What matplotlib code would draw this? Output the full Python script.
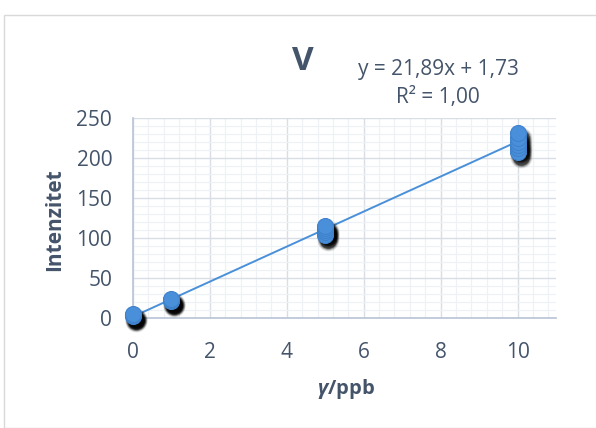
import matplotlib
matplotlib.use("Agg")
import matplotlib.pyplot as plt
import matplotlib.transforms as mtransforms
from matplotlib.patches import Rectangle
import numpy as np

plt.rcParams["mathtext.fontset"] = "custom"
plt.rcParams["mathtext.it"] = "Open Sans:italic:bold"
plt.rcParams["mathtext.rm"] = "Open Sans:bold"
plt.rcParams["mathtext.bf"] = "Open Sans:bold"

# ---- data ----
conc_0 = [0, 0, 0]
int_0 = [2, 4, 5]
conc_1 = [1, 1, 1]
int_1 = [21, 22, 24]
conc_5 = [5, 5, 5, 5, 5]
int_5 = [104, 107, 110, 113, 115]
conc_10 = [10, 10, 10, 10, 10, 10]
int_10 = [208, 212, 216, 220, 225, 231]
slope = 21.89
intercept = 1.73
equation_text = "y = 21,89x + 1,73"
r2_text = "R² = 1,00"
title_text = "V"
x_label = r"$\gamma$/ppb"
y_label = "Intenzitet"
x_ticks = [0, 2, 4, 6, 8, 10]
y_ticks = [0, 50, 100, 150, 200, 250]

x = np.array(conc_0 + conc_1 + conc_5 + conc_10, dtype=float)
y = np.array(int_0 + int_1 + int_5 + int_10, dtype=float)

txt = "#44546A"
fam = ["Open Sans", "DejaVu Sans"]

fig = plt.figure(figsize=(5.96, 4.28), dpi=100)
fig.patches.append(Rectangle((3.5 / 596, 0), 1, 1 - 14.5 / 428, transform=fig.transFigure,
                             fill=False, edgecolor="#D9D9D9", linewidth=1.0))
ax = fig.add_axes([133 / 596, 1 - 318 / 428, (556 - 133) / 596, (318 - 118) / 428])

ax.set_xlim(0, 11)
ax.set_ylim(0, 250)
ax.set_xticks(x_ticks)
ax.set_yticks(y_ticks)
ax.set_xticks(np.arange(0, 11.01, 0.4), minor=True)
ax.set_yticks(np.arange(0, 250.1, 10), minor=True)
ax.grid(which="major", color="#D9DEE6", linewidth=1.0)
ax.grid(which="minor", color="#EEF1F5", linewidth=0.9)
ax.set_axisbelow(True)
for s in ["top", "right"]:
    ax.spines[s].set_visible(False)
for s in ["left", "bottom"]:
    ax.spines[s].set_color("#B8C4D6")
    ax.spines[s].set_linewidth(1.2)
ax.tick_params(which="both", length=0, colors=txt, labelsize=15)
ax.tick_params(axis="x", pad=17)
ax.tick_params(axis="y", pad=15)
for lab in ax.get_xticklabels() + ax.get_yticklabels():
    lab.set_family(fam)

# trendline
xl = np.array([0, 10])
ax.plot(xl, slope * xl + intercept, color="#4A90D9", linewidth=1.4, zorder=3)

# soft shadow layers
for size, a in [(16, 0.07), (15, 0.1), (14, 0.15), (13, 0.25), (12, 0.45)]:
    off = mtransforms.offset_copy(ax.transData, fig=fig, x=3, y=-5, units="dots")
    ax.plot(x, y, "o", markersize=size, color="black", alpha=a,
            markeredgewidth=0, transform=off, zorder=4, clip_on=False)
ax.plot(x, y, "o", markersize=11.5, color="#4A8FDA", markeredgecolor="#3F82CC",
        markeredgewidth=0.8, zorder=5, clip_on=False)

fig.text(345.5 / 596, 1 - 389 / 428, x_label, fontsize=14.5, fontweight="bold", color=txt,
         family=fam, ha="center", va="center")
fig.text(55 / 596, 1 - 220 / 428, y_label, fontsize=15, fontweight="bold", color=txt,
         family=fam, ha="center", va="center", rotation=90)

fig.text(303 / 596, 1 - 61 / 428, title_text, fontsize=24, fontweight="bold", color=txt,
         family=fam, ha="center", va="center")
fig.text(438 / 596, 1 - 69 / 428, equation_text, fontsize=15, color=txt, family=fam,
         ha="center", va="center")
fig.text(438 / 596, 1 - 98 / 428, r2_text, fontsize=15, color=txt, family=fam,
         ha="center", va="center")

fig.savefig("out.png", dpi=100)
